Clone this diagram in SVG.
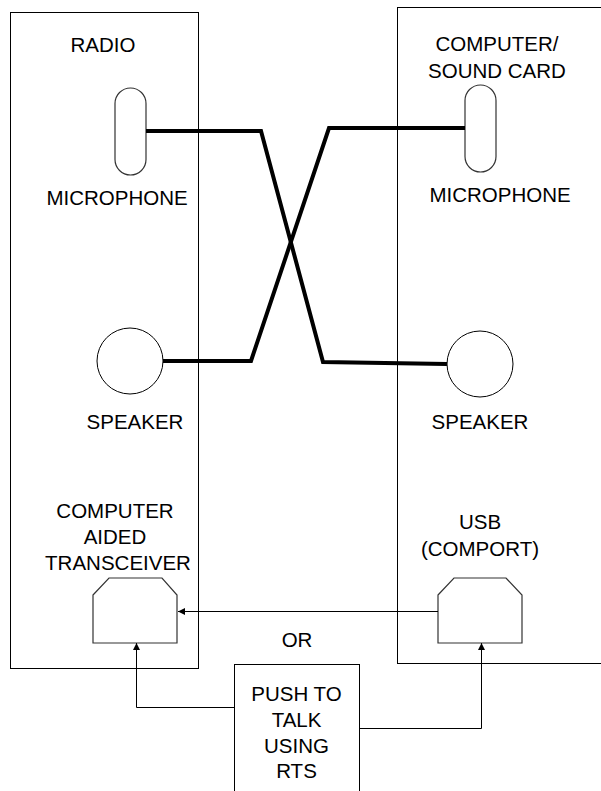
<svg xmlns="http://www.w3.org/2000/svg" width="601" height="791" viewBox="0 0 601 791">
<style>
text{font-family:"Liberation Sans",Arial,sans-serif;font-size:20.5px;fill:#000;text-anchor:middle}
.box{fill:none;stroke:#000;stroke-width:1}
.mic{fill:#fff;stroke:#333;stroke-width:1.2}
.spk{fill:#fff;stroke:#000;stroke-width:1}
.port{fill:#fff;stroke:#333;stroke-width:1.2}
.wire{fill:none;stroke:#000;stroke-width:4;stroke-linejoin:miter}
.link{fill:none;stroke:#000;stroke-width:1}
</style>
<defs>
<marker id="ah" viewBox="0 0 8 8" refX="8" refY="4" markerWidth="7" markerHeight="7" markerUnits="userSpaceOnUse" orient="auto">
<path d="M0,0 L8,4 L0,8 z" fill="#000"/>
</marker>
</defs>
<rect width="601" height="791" fill="#fff"/>
<g id="radio">
<rect class="box" x="10.5" y="12.5" width="188" height="656"/>
<text x="103" y="52">RADIO</text>
</g>
<g id="computer">
<rect class="box" x="397.5" y="7.5" width="215" height="656"/>
<text x="497" y="51">COMPUTER/</text>
<text x="497" y="78">SOUND CARD</text>
</g>
<g id="radio-mic">
<rect class="mic" x="115" y="88" width="31" height="87" rx="15.5"/>
<text x="117" y="205">MICROPHONE</text>
</g>
<g id="pc-mic">
<rect class="mic" x="465" y="85" width="31" height="87" rx="15.5"/>
<text x="500" y="202">MICROPHONE</text>
</g>
<g id="radio-speaker">
<circle class="spk" cx="130" cy="361" r="33"/>
<text x="135" y="429">SPEAKER</text>
</g>
<g id="pc-speaker">
<circle class="spk" cx="480" cy="364" r="33"/>
<text x="480" y="429">SPEAKER</text>
</g>
<g id="cat">
<text x="115" y="518">COMPUTER</text>
<text x="115" y="544">AIDED</text>
<text x="118" y="570">TRANSCEIVER</text>
<path class="port" d="M93,595 L109,578 L162,578 L177,595 L177,643 L93,643 Z"/>
</g>
<g id="usb">
<text x="480" y="529">USB</text>
<text x="480" y="556">(COMPORT)</text>
<path class="port" d="M438,595 L454,578 L506,578 L522,595 L522,643 L438,643 Z"/>
</g>
<g id="or">
<text x="297" y="647">OR</text>
</g>
<g id="ptt">
<rect class="box" x="234.5" y="664.5" width="125" height="140"/>
<text x="296.5" y="701">PUSH TO</text>
<text x="296.5" y="727">TALK</text>
<text x="296.5" y="753">USING</text>
<text x="296.5" y="778">RTS</text>
</g>
<g id="connectors">
<polyline class="wire" points="146,131 261,131 323,362 447,364"/>
<polyline class="wire" points="465,128 329,128 251,361 163,361"/>
<line class="link" x1="438" y1="611.5" x2="178" y2="611.5" marker-end="url(#ah)"/>
<polyline class="link" points="234,707.5 136.5,707.5 136.5,643" marker-end="url(#ah)"/>
<polyline class="link" points="359,728.5 481.5,728.5 481.5,643" marker-end="url(#ah)"/>
</g>
</svg>
